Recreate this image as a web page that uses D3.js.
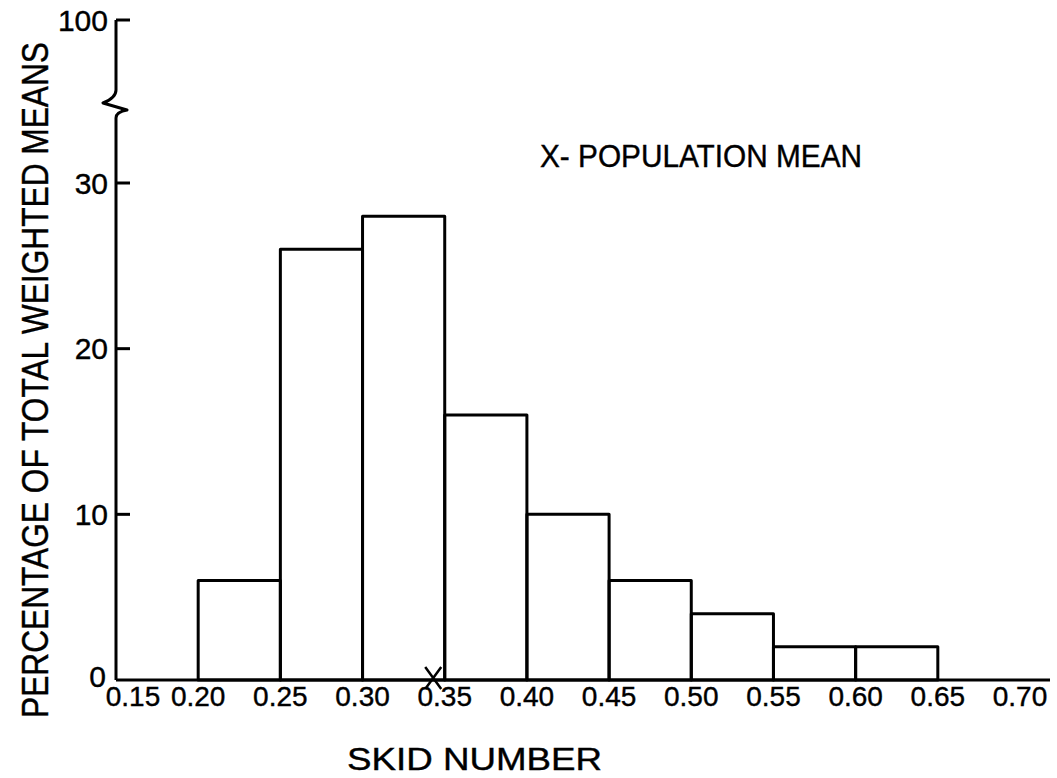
<!DOCTYPE html>
<html>
<head>
<meta charset="utf-8">
<script src="https://cdn.jsdelivr.net/npm/d3@7"></script>
<style>
  html, body { margin: 0; padding: 0; background: #fff; }
  svg { display: block; }
  text { font-family: "Liberation Sans", "DejaVu Sans", sans-serif; fill: #000; stroke: #000; stroke-width: 0.4px; }
</style>
</head>
<body>
<svg id="chart" width="1057" height="778"></svg>
<script>
// ---- data ----
const binStarts = [0.20, 0.25, 0.30, 0.35, 0.40, 0.45, 0.50, 0.55, 0.60];
const binWidth = 0.05;
const percentages = [6, 26, 28, 16, 10, 6, 4, 2, 2];
const xTickValues = [0.15, 0.20, 0.25, 0.30, 0.35, 0.40, 0.45, 0.50, 0.55, 0.60, 0.65, 0.70];
const xTickLabels = ["0.15", "0.20", "0.25", "0.30", "0.35", "0.40", "0.45", "0.50", "0.55", "0.60", "0.65", "0.70"];
const yTickValues = [0, 10, 20, 30, 100];
const yTickLabels = ["0", "10", "20", "30", "100"];
const populationMean = 0.343;
const xTitle = "SKID NUMBER";
const yTitle = "PERCENTAGE  OF  TOTAL  WEIGHTED  MEANS";
const annotation = "X- POPULATION  MEAN";

// ---- layout ----
const svg = d3.select("#chart");
const x = d3.scaleLinear().domain([0.15, 0.70]).range([116, 1020]);
// broken axis: 0..30 linear, then a break up to 100
const y = d3.scaleLinear().domain([0, 30, 100]).range([680, 183, 20]);

const stroke = "#000";
const g = svg.append("g");

// bars
g.selectAll("rect.bar")
  .data(binStarts.map((s, i) => ({ s, v: percentages[i] })))
  .join("rect")
  .attr("class", "bar")
  .attr("x", d => x(d.s))
  .attr("y", d => y(d.v))
  .attr("width", d => x(d.s + binWidth) - x(d.s))
  .attr("height", d => y(0) - y(d.v))
  .attr("fill", "none")
  .attr("stroke", stroke)
  .attr("stroke-width", 3)
  .attr("stroke-linejoin", "round");

// x axis line
g.append("line")
  .attr("x1", x(0.15)).attr("x2", 1050)
  .attr("y1", y(0)).attr("y2", y(0))
  .attr("stroke", stroke).attr("stroke-width", 3);

// y axis with break
const ax = x(0.15);
const axisPath = d3.path();
axisPath.moveTo(ax, y(100));
axisPath.lineTo(ax, 90);
axisPath.quadraticCurveTo(ax, 98, ax - 13, 103);
axisPath.lineTo(ax + 11, 110);
axisPath.quadraticCurveTo(ax, 112, ax, 118);
axisPath.lineTo(ax, y(0));
g.append("path")
  .attr("d", axisPath.toString())
  .attr("fill", "none")
  .attr("stroke", stroke)
  .attr("stroke-width", 3)
  .attr("stroke-linejoin", "round");

// y ticks
g.selectAll("line.ytick")
  .data(yTickValues.filter(v => v !== 0))
  .join("line")
  .attr("class", "ytick")
  .attr("x1", ax).attr("x2", ax + 14)
  .attr("y1", d => y(d)).attr("y2", d => y(d))
  .attr("stroke", stroke).attr("stroke-width", 3);

g.selectAll("text.ylab")
  .data(yTickValues)
  .join("text")
  .attr("class", "ylab")
  .attr("x", d => d === 0 ? ax - 10 : ax - 8)
  .attr("y", d => d === 0 ? y(d) - 4 : y(d))
  .attr("dy", "0.36em")
  .attr("text-anchor", "end")
  .style("font-size", "30px")
  .text((d, i) => yTickLabels[i]);

// x tick labels
g.selectAll("text.xlab")
  .data(xTickValues)
  .join("text")
  .attr("class", "xlab")
  .attr("x", (d, i) => x(d) + (i === 0 ? 17 : 0))
  .attr("y", y(0) + 26)
  .attr("text-anchor", "middle")
  .style("font-size", "28px")
  .text((d, i) => xTickLabels[i]);

// population mean marker
const mx = x(populationMean), my = y(0) - 2;
g.append("path")
  .attr("d", `M${mx - 8},${my - 11}L${mx + 8},${my + 11}M${mx + 8},${my - 11}L${mx - 8},${my + 11}`)
  .attr("stroke", stroke).attr("stroke-width", 2.5).attr("fill", "none");

// annotation
g.append("text")
  .attr("x", 540).attr("y", 167)
  .attr("textLength", 322).attr("lengthAdjust", "spacingAndGlyphs")
  .style("font-size", "32px")
  .text(annotation);

// x title
g.append("text")
  .attr("x", 347).attr("y", 770)
  .attr("textLength", 255).attr("lengthAdjust", "spacingAndGlyphs")
  .style("font-size", "32px")
  .text(xTitle);

// y title
g.append("text")
  .attr("transform", "translate(48,718) rotate(-90)")
  .attr("x", 0).attr("y", 0)
  .attr("textLength", 676).attr("lengthAdjust", "spacingAndGlyphs")
  .style("font-size", "36px")
  .text(yTitle);
</script>
</body>
</html>
